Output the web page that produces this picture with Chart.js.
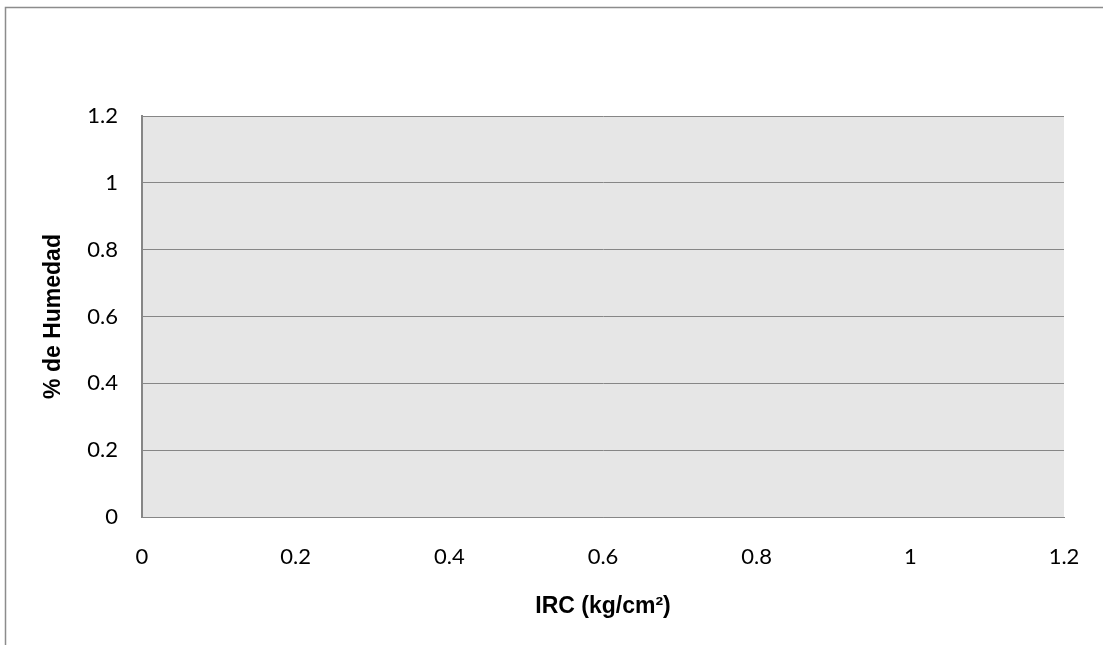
<!DOCTYPE html>
<html>
<head>
<meta charset="utf-8">
<title>IRC vs % de Humedad</title>
<script src="https://cdn.jsdelivr.net/npm/chart.js@4/dist/chart.umd.min.js"></script>
<style>
  html, body { margin: 0; padding: 0; background: #ffffff; }
  #wrap { width: 1103px; height: 645px; position: relative; }
</style>
</head>
<body>
<div id="wrap"><canvas id="chart" width="1103" height="645"></canvas></div>
<script>
// Axis ticks and (empty) measurement series
const xTickValues = [0, 0.2, 0.4, 0.6, 0.8, 1, 1.2];
const yTickValues = [0, 0.2, 0.4, 0.6, 0.8, 1, 1.2];
const xTickLabels = ['0', '0.2', '0.4', '0.6', '0.8', '1', '1.2'];
const yTickLabels = ['0', '0.2', '0.4', '0.6', '0.8', '1', '1.2'];
const ircValues = [];
const humedadValues = [];

const xTitle = 'IRC (kg/cm²)';
const yTitle = '% de Humedad';

const points = ircValues.map((x, i) => ({ x: x, y: humedadValues[i] }));

const GRID = '#868686';

// Grey plot area and the outer frame lines
const framePlugin = {
  id: 'frame',
  beforeDraw(chart) {
    const { ctx, chartArea: a } = chart;
    ctx.save();
    ctx.fillStyle = '#e6e6e6';
    ctx.fillRect(a.left, a.top, a.right - a.left, a.bottom - a.top);
    ctx.strokeStyle = '#8c8c8c';
    ctx.lineWidth = 1.5;
    ctx.beginPath();
    ctx.moveTo(5.5, chart.height);
    ctx.lineTo(5.5, 7.5);
    ctx.lineTo(chart.width, 7.5);
    ctx.stroke();
    ctx.restore();
  }
};

new Chart(document.getElementById('chart'), {
  type: 'scatter',
  data: {
    datasets: [{
      label: '% de Humedad',
      data: points,
      backgroundColor: '#4f81bd',
      borderColor: '#4f81bd'
    }]
  },
  options: {
    responsive: false,
    animation: false,
    layout: { padding: { top: 116, right: 39, left: 0, bottom: 0 } },
    plugins: {
      legend: { display: false },
      tooltip: { enabled: false }
    },
    scales: {
      x: {
        type: 'linear',
        min: 0,
        max: 1.2,
        afterBuildTicks: s => { s.ticks = xTickValues.map(v => ({ value: v })); },
        afterFit: s => { s.height = 128; s.paddingLeft = 0; s.paddingRight = 0; },
        grid: { display: false, drawTicks: false },
        border: { display: true, color: GRID, width: 1 },
        ticks: {
          padding: 27,
          color: '#000000',
          font: { family: 'Lato', size: 22 },
          maxRotation: 0,
          callback: (v, i) => xTickLabels[i]
        },
        title: {
          display: true,
          text: xTitle,
          color: '#000000',
          font: { family: 'Liberation Sans', size: 23, weight: 'bold' },
          padding: { top: 0, bottom: 25 }
        }
      },
      y: {
        type: 'linear',
        min: 0,
        max: 1.2,
        afterBuildTicks: s => { s.ticks = yTickValues.map(v => ({ value: v })); },
        afterFit: s => { s.width = 142; s.paddingTop = 0; s.paddingBottom = 0; },
        grid: { color: GRID, lineWidth: 1, drawTicks: false },
        border: { display: true, color: GRID, width: 2 },
        ticks: {
          padding: 24,
          color: '#000000',
          font: { family: 'Lato', size: 22 },
          callback: (v, i) => yTickLabels[i]
        },
        title: {
          display: true,
          text: yTitle,
          color: '#000000',
          font: { family: 'Liberation Sans', size: 23, weight: 'bold' },
          padding: { top: 40, bottom: 0 }
        }
      }
    }
  },
  plugins: [framePlugin]
});
</script>
</body>
</html>
